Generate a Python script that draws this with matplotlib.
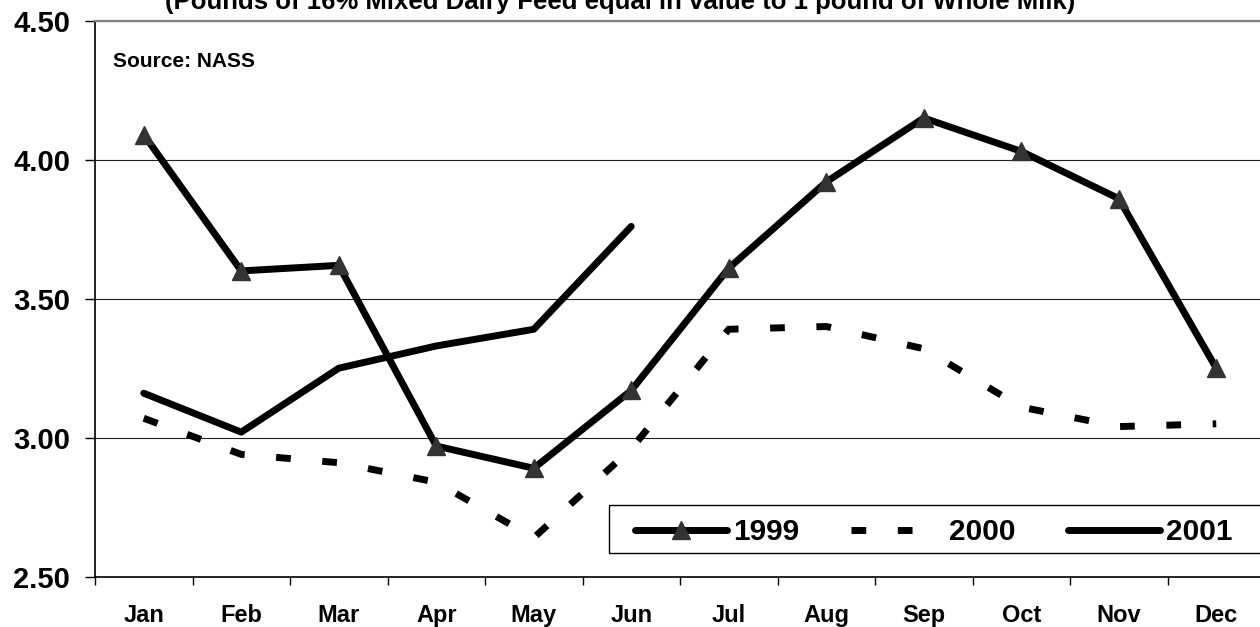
import matplotlib
matplotlib.use('Agg')
import matplotlib.pyplot as plt
from matplotlib.patches import Rectangle
from matplotlib.font_manager import FontProperties
from matplotlib.ticker import FixedLocator, NullFormatter, FixedFormatter

# ---- data ----
months = ['Jan', 'Feb', 'Mar', 'Apr', 'May', 'Jun',
          'Jul', 'Aug', 'Sep', 'Oct', 'Nov', 'Dec']
y1999 = [4.09, 3.60, 3.62, 2.97, 2.89, 3.17, 3.61, 3.92, 4.15, 4.03, 3.86, 3.25]
y2000 = [3.07, 2.94, 2.91, 2.84, 2.64, 2.96, 3.39, 3.40, 3.32, 3.11, 3.04, 3.05]
y2001 = [3.16, 3.02, 3.25, 3.33, 3.39, 3.76]
series_names = ['1999', '2000', '2001']
yticks = [2.50, 3.00, 3.50, 4.00, 4.50]
ytick_labels = ['2.50', '3.00', '3.50', '4.00', '4.50']
title = '(Pounds of 16% Mixed Dairy Feed equal in value to 1 pound of Whole Milk)'
source = 'Source: NASS'

plt.rcParams['font.family'] = ['Liberation Sans', 'DejaVu Sans']
plt.rcParams['font.weight'] = 'bold'

W, H = 1260, 627
fig = plt.figure(figsize=(W / 100, H / 100), dpi=100)
ax = fig.add_axes([95 / W, (H - 576.7) / H, 1170 / W, 556 / H])

xpos = [i + 0.5 for i in range(len(months))]

h2000, = ax.plot(xpos, y2000, color='black', lw=5, linestyle=(0, (2.12, 4.55)),
                 dash_capstyle='butt', dash_joinstyle='miter', zorder=3)
h2001, = ax.plot(xpos[:len(y2001)], y2001, color='black', lw=5,
                 solid_capstyle='round', solid_joinstyle='round', zorder=3)
h1999, = ax.plot(xpos, y1999, color='black', lw=5, marker='^', ms=13,
                 mfc='#333333', mec='#333333', solid_capstyle='round',
                 solid_joinstyle='round', zorder=4)

ax.set_xlim(0, 12)
ax.set_ylim(2.5, 4.5)

# x: ticks at category boundaries, labels at centres
ax.xaxis.set_major_locator(FixedLocator(list(range(13))))
ax.xaxis.set_major_formatter(NullFormatter())
ax.xaxis.set_minor_locator(FixedLocator(xpos))
ax.xaxis.set_minor_formatter(FixedFormatter(months))
ax.tick_params(axis='x', which='major', direction='out', length=6, width=1, color='black')
ax.tick_params(axis='x', which='minor', length=0, pad=20, labelsize=17)

ax.set_yticks(yticks)
ax.set_yticklabels(ytick_labels)
ax.tick_params(axis='y', direction='out', length=7.2, width=1, pad=10.8, labelsize=21)

ax.yaxis.grid(True, color='#222222', lw=0.8)
ax.set_axisbelow(True)

ax.spines['right'].set_visible(False)
ax.spines['top'].set_color('#808080')
ax.spines['top'].set_linewidth(1.6)
ax.spines['left'].set_linewidth(1.2)
ax.spines['bottom'].set_linewidth(1.2)

# legend box
ax.add_patch(Rectangle((609 / W, (H - 553) / H), (1275 - 609) / W, 48 / H,
                       transform=fig.transFigure, fc='white', ec='black', lw=1,
                       clip_on=False, zorder=5))
fs = 21.5
fpx = fs * 100 / 72
leg = ax.legend([h1999, h2000, h2001], series_names, ncol=3, loc='center left',
                bbox_to_anchor=(635 / W, (H - 532.5) / H), bbox_transform=fig.transFigure,
                frameon=False, borderpad=0, borderaxespad=0,
                handlelength=92 / fpx, handletextpad=6 / fpx, columnspacing=52 / fpx,
                prop=FontProperties(family='Liberation Sans', weight='bold', size=fs))
leg.set_zorder(6)

fig.text(620 / W, (H - 8.5) / H, title, ha='center', va='baseline',
         fontsize=18.5, fontweight='bold')
fig.text(113 / W, (H - 67) / H, source, ha='left', va='baseline',
         fontsize=15, fontweight='bold')

fig.savefig('out.png', dpi=100)
